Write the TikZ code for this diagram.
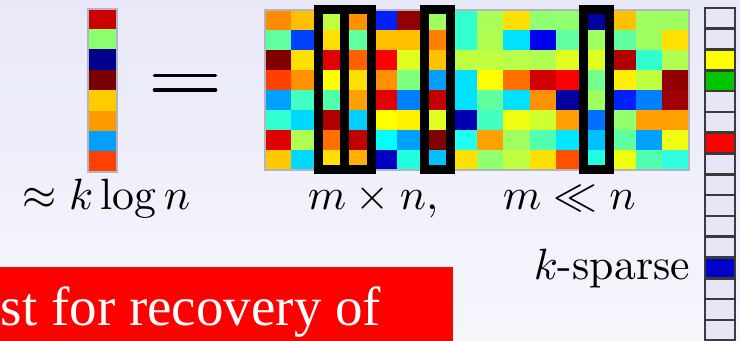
\documentclass[tikz,border=0pt]{standalone}
\usepackage{xcolor}
\usepackage{fontspec}
\usepackage{tikz}
\usetikzlibrary{positioning,fit}
\newfontfamily\slidefont{Liberation Serif}
\definecolor{SlideTop}{HTML}{E8E8F8}
\definecolor{SlideBottom}{HTML}{F6F7FC}
\definecolor{AlertRed}{HTML}{FF0000}
\definecolor{EmptyCell}{HTML}{E6E6F6}
\definecolor{CellEdge}{HTML}{3A3A3A}
\definecolor{FrameGray}{HTML}{B4B4BE}
\tikzset{
  cell/.style={inner sep=0pt, outer sep=0pt, fill=cellc, draw=cellc, line width=0.15pt},
  matrixcell/.style={cell, minimum width=6.625pt, minimum height=5pt},
  measurecell/.style={cell, minimum width=7.25pt, minimum height=5.094pt},
  sparsecell/.style={inner sep=0pt, outer sep=0pt, fill=cellc, draw=CellEdge,
    line width=0.65pt, minimum width=7.5pt, minimum height=5.2pt},
  colbox/.style={draw=black, line width=2.25pt, inner sep=0pt},
  thinframe/.style={draw=FrameGray, line width=0.3pt, inner sep=0pt},
  eqbar/.style={line width=0.9pt, line cap=round},
  mathlabel/.style={inner sep=0pt, anchor=base west, font=\fontsize{10.95}{13}\selectfont},
  alerttext/.style={inner sep=0pt, anchor=base west, text=white,
    font=\slidefont\fontsize{13.75}{16}\selectfont}
}
\begin{document}
\begin{tikzpicture}[x=0.25pt, y=0.25pt]
  \useasboundingbox (0,0) rectangle (740,341);
  \clip (0,0) rectangle (740,341);
  \shade[top color=SlideTop, bottom color=SlideBottom] (0,0) rectangle (740,341);

  % measurement vector
  \foreach \hex [count=\j] in {CC0000,8CFF6E,00008C,7A0000,FFCC00,FF9900,00A0FF,FF4000}{
    \definecolor{cellc}{HTML}{\hex}
    \node[measurecell] (y-\j) at (102.5,{332-(\j-0.5)*20.375}) {};
  }
  \node[thinframe, fit=(y-1)(y-8)] (yframe) {};

  \draw[eqbar] (154.5,265.5) -- (215.5,265.5);
  \draw[eqbar] (154.5,251) -- (215.5,251);

  % sensing matrix, column by column
  \foreach \column [count=\i] in {
    {FF8C00,60FFA0,800000,FF4000,00A0FF,30FFD0,E00000,FFC800},
    {FFC000,0040FF,FFE000,FF9000,40FFC0,00D8FF,B0FF50,00D8FF},
    {C0FF40,FFE000,E00000,FFFF00,50FFA8,B00000,FF7000,FFE000},
    {FF9000,60FFA0,FF6000,FFE000,FFA000,00D0FF,C00000,FFB000},
    {0020FF,FFC000,FF0000,FF9000,E00000,FFFF00,00FFFF,0000C0},
    {900000,FFC000,E0FF20,80FF80,0080FF,FFF000,00A0FF,20FFE0},
    {A0FF60,FF8000,FFC000,00A0FF,C00000,E0FF20,800000,00C0FF},
    {30FFD0,30FFD0,C0FF40,00E0FF,00E0FF,0000B0,20FFF0,FFE000},
    {A8FF58,B0FF50,C0FF40,FFFF00,60FFA0,40FFC0,FFA000,90FF70},
    {FFE000,00E0FF,B8FF48,FF7000,00E0FF,F0FF10,A0FF60,C0FF40},
    {90FF70,0000F0,B0FF50,D00000,FF9000,D0FF30,50FFB0,FFE000},
    {90FF70,60FFA0,E0FF20,FF0000,0000A0,FFA000,00E8FF,FF5000},
    {0000A0,A0FF60,E0FF20,70FF90,A0FF60,0070FF,00C0FF,20FFE0},
    {FFC000,60FFA0,B00000,FFF000,0020FF,90FF70,60FFA0,F0FF10},
    {A0FF60,A0FF60,30FFD0,C0FF40,0080FF,FFA000,00A0FF,50FFB0},
    {A0FF60,FFE000,B0FF50,900000,A00000,FFA000,F0FF10,30FFE0}}{
    \foreach \hex [count=\j] in \column {
      \definecolor{cellc}{HTML}{\hex}
      \node[matrixcell] (A-\i-\j) at ({265+(\i-0.5)*26.5},{331-(\j-0.5)*20}) {};
    }
  }
  \node[thinframe, fit=(A-1-1)(A-16-8)] (Aframe) {};

  % columns picked by the support
  \foreach \i in {3,4,7,13}
    \node[colbox, fit=(A-\i-1)(A-\i-8)] (pick-\i) {};

  % sparse signal
  \foreach \hex [count=\j] in {E6E6F6,E6E6F6,FFFF00,00C400,E6E6F6,E6E6F6,FF0000,E6E6F6,
                               E6E6F6,E6E6F6,E6E6F6,E6E6F6,0000C8,E6E6F6,E6E6F6,E6E6F6}{
    \definecolor{cellc}{HTML}{\hex}
    \node[sparsecell] (x-\j) at (720,{333-(\j-0.5)*20.8}) {};
  }

  \node[mathlabel] (rows) at (22,131) {$\approx k\log n$};
  \node[mathlabel] (dims) at (307,131) {$m\times n,$};
  \node[mathlabel] (fewer) at (502,131) {$m\ll n$};
  \node[mathlabel] (sparse) at (533,61) {$k$-sparse};

  \fill[AlertRed] (0,0) rectangle (453,74);
  \node[alerttext] (note) at (0,15) {st for recovery of};
\end{tikzpicture}
\end{document}
